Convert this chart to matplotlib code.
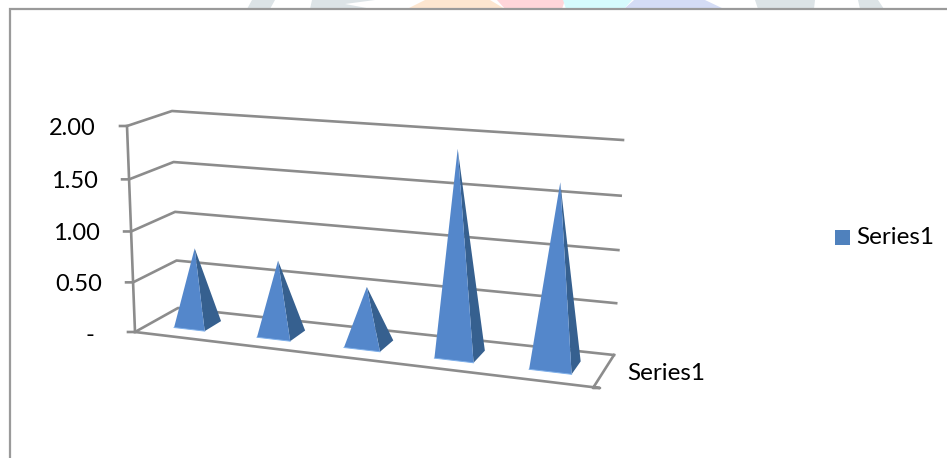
import numpy as np
import matplotlib
matplotlib.use('Agg')
import matplotlib.pyplot as plt
from matplotlib.patches import Polygon, Rectangle

plt.rcParams['font.family'] = ['Lato', 'DejaVu Sans']

values = [0.77, 0.73, 0.56, 1.92, 1.69]
y_ticks = [0.0, 0.5, 1.0, 1.5, 2.0]
y_labels = ['-', '0.50', '1.00', '1.50', '2.00']
series_name = 'Series1'

GRID = '#8c8c8c'
FRONT = '#5487cb'
SIDE = '#36608f'

W, H = 947, 458
y_max = 2.0

# corners of the fake 3d box in pixels: front-left, front-right, back-right, back-left
floor_px = [(135, 332), (593, 388), (614, 355), (178, 308)]
top_px = [(127, 126), (608, 163), (623, 140), (172, 111)]


def homography(pts):
    src = [(0, 0), (1, 0), (1, 1), (0, 1)]
    A, b = [], []
    for (x, z), (u, v) in zip(src, pts):
        A.append([x, z, 1, 0, 0, 0, -u*x, -u*z])
        A.append([0, 0, 0, x, z, 1, -v*x, -v*z])
        b += [u, v]
    return np.append(np.linalg.solve(np.array(A, float), np.array(b, float)), 1).reshape(3, 3)


floor_h = homography(floor_px)
top_h = homography(top_px)


def apply_h(m, x, z):
    p = m @ np.array([x, z, 1.0])
    return p[:2] / p[2]


def project(x, val, z):
    a = apply_h(floor_h, x, z)
    b = apply_h(top_h, x, z)
    t = val / y_max
    t = t - 0.048 * t * (1 - t)  # gridlines spread out slightly going up
    return a + (b - a) * t


fig = plt.figure(figsize=(W/100, H/100), dpi=100)
ax = fig.add_axes([0, 0, 1, 1])
ax.set_xlim(0, W)
ax.set_ylim(H, 0)
ax.axis('off')

# bits of the page watermark showing above the chart
ax.add_patch(Polygon([(247, 9), (252, 0), (275, 0), (270, 9)], fc='#dce3e6', ec='none'))
ax.add_patch(Polygon([(310, 9), (312, 0), (375, 0), (345, 4), (372, 9)], fc='#dce3e6', ec='none'))
ax.add_patch(Polygon([(407, 9), (425, 0), (490, 0), (505, 9)], fc='#fde6d0', ec='none'))
ax.add_patch(Polygon([(505, 9), (497, 0), (565, 0), (562, 9)], fc='#ffd6da', ec='none'))
ax.add_patch(Polygon([(566, 9), (563, 0), (632, 0), (624, 9)], fc='#d6fbfd', ec='none'))
ax.add_patch(Polygon([(624, 9), (634, 0), (705, 0), (724, 9)], fc='#d4dcf5', ec='none'))
ax.add_patch(Polygon([(758, 9), (755, 0), (815, 0), (814, 9)], fc='#dce3e6', ec='none'))
ax.add_patch(Polygon([(860, 9), (858, 0), (878, 0), (884, 9)], fc='#dce3e6', ec='none'))

# chart frame
ax.plot([10, 10, W], [H, 9, 9], color='#9a9a9a', lw=1.6, solid_joinstyle='miter')

# gridlines: tick, side wall, back wall
for v, lab in zip(y_ticks, y_labels):
    f = project(0, v, 0)
    m = project(0, v, 1)
    e = project(1, v, 1)
    ax.plot([f[0]-7, f[0], m[0], e[0]], [f[1], f[1], m[1], e[1]], color=GRID, lw=1.9)
    if lab == '-':
        ax.text(f[0]-45, f[1]+3, lab, ha='center', va='center', fontsize=17, color='black')
    else:
        ax.text(f[0]-31, f[1]+2.5, lab, ha='right', va='center', fontsize=17, color='black')

# value axis and floor outline
a, b = project(0, 0, 0), project(0, y_max, 0)
ax.plot([a[0], b[0]], [a[1], b[1]], color=GRID, lw=1.9)
a, b, c = project(0, 0, 0), project(1, 0, 0), project(1, 0, 1)
ax.plot([a[0], b[0]+7, b[0], c[0]], [a[1], b[1], b[1], c[1]], color=GRID, lw=1.9)

# pyramids
half = 0.2
depth = (0.3, 0.7)
for i, v in enumerate(values):
    cx = (i + 0.5) / len(values)
    cx = cx + 0.002 + 0.022 * np.sin(np.pi * cx)  # bars sit a bit right of even spacing
    w = half / len(values)
    fl = project(cx-w, 0, depth[0])
    fr = project(cx+w, 0, depth[0])
    br = project(cx+w, 0, depth[1])
    apex = project(cx, v, 0.5)
    ax.add_patch(Polygon([fr, br, apex], closed=True, fc=SIDE, ec='none', zorder=3))
    ax.add_patch(Polygon([fl, fr, apex], closed=True, fc=FRONT, ec='none', zorder=3))
    ax.plot([fl[0], fr[0]], [fl[1], fr[1]], color='#7fb0ea', lw=0.7, zorder=4)

ax.text(627, 373, series_name, ha='left', va='center', fontsize=17.5, color='black')

# legend
ax.add_patch(Rectangle((835, 230), 15, 15, fc='#4f81bd', ec='none'))
ax.text(856, 237, series_name, ha='left', va='center', fontsize=17.5, color='black')

fig.savefig('out.png', dpi=100)
